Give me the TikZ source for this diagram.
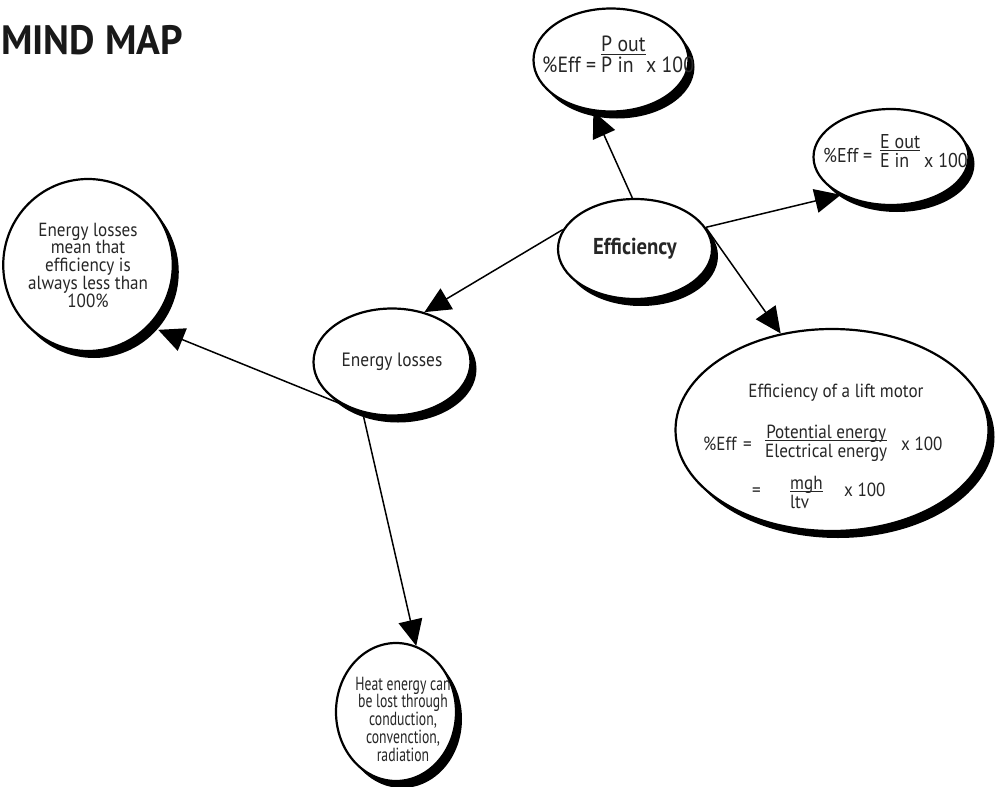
\documentclass[tikz,border=0pt]{standalone}
\usepackage{fontspec}
\setmainfont{PT Sans}[FakeStretch=0.9]
\newfontfamily\titlefont{PT Sans}[FakeStretch=0.96]
\newfontfamily\narrowfont{PT Sans}[FakeStretch=0.72]
\usetikzlibrary{shapes.geometric,arrows.meta,shadows}
\newcommand{\frc}[3][l]{{\setlength{\arrayrulewidth}{1.2pt}\setlength{\tabcolsep}{0pt}\begin{tabular}[b]{@{}#1@{}}#2\\[-5pt]\hline\rule{0pt}{16pt}#3\end{tabular}}}
\begin{document}
\begin{tikzpicture}[x=1pt,y=-1pt,
  bub/.style={ellipse, draw, line width=2.2pt, fill=white, inner sep=0pt, align=center, text=black!85,
    drop shadow={shadow xshift=6pt,shadow yshift=-7pt,opacity=1,fill=black}},
  arr/.style={line width=1.5pt, -{Triangle[length=26pt,width=24pt]}},
  lab/.style={font=\fontsize{19}{17.75}\selectfont, align=center, inner sep=0pt, text=black!85},
  ft/.style={font=\fontsize{19}{22}\selectfont, inner sep=0pt, text=black!85}]
\useasboundingbox (0,0) rectangle (999,787);

\node[font=\titlefont\bfseries\fontsize{41}{41}\selectfont, anchor=base west, inner sep=0pt, text=black!90] (title) at (1,54) {MIND MAP};

\node[bub, minimum width=155pt, minimum height=103pt] (pout) at (611,60) {};
\node[bub, minimum width=155pt, minimum height=96pt] (eout) at (891,157) {};
\node[bub, minimum width=158pt, minimum height=172pt, font=\fontsize{19}{17.75}\selectfont] (left) at (88,265)
  {Energy losses\\mean that\\efficiency is\\always less than\\100\%};
\node[bub, minimum width=154pt, minimum height=100pt, font=\bfseries\fontsize{23}{24}\selectfont] (eff) at (635,249) {Efficiency};
\node[bub, minimum width=157pt, minimum height=107pt, font=\fontsize{19.3}{20}\selectfont] (loss) at (392,362) {Energy losses};
\node[bub, minimum width=313pt, minimum height=202pt] (lift) at (832,430) {};
\node[bub, minimum width=120pt, minimum height=138pt] (heat) at (396,712) {};

% formula P
\node[ft, font=\fontsize{22}{24}\selectfont, anchor=base west] (a1) at (542,72) {\%Eff =};
\node[ft, font=\fontsize{22}{24}\selectfont, anchor=base west] (a2) at (601,72) {\frc{P out}{P in}};
\node[ft, font=\fontsize{22}{24}\selectfont, anchor=base west] (a3) at (646,72) {x 100};
% formula E
\node[ft, font=\fontsize{20}{22}\selectfont, anchor=base west] (b1) at (823,162) {\%Eff =};
\node[ft, font=\fontsize{20}{22}\selectfont, anchor=base west] (b2) at (880,167) {\frc{E out}{E in}};
\node[ft, font=\fontsize{20}{22}\selectfont, anchor=base west] (b3) at (924,167) {x 100};
% lift motor
\node[lab, anchor=base] (l1) at (836,397) {Efficiency of a lift motor};
\node[ft, anchor=base west] (l2) at (703,450) {\%Eff\hspace{2pt} =};
\node[ft, anchor=base west] (l3) at (765,457) {\frc[c]{Potential energy}{Electrical energy}};
\node[ft, anchor=base west] (l4) at (901,450) {x 100};
\node[ft, anchor=base west] (l5) at (752,496) {=};
\node[ft, anchor=base west] (l6) at (790,508) {\frc{mgh}{ltv}};
\node[ft, anchor=base west] (l7) at (844,496) {x 100};
% heat
\node[lab, font=\narrowfont\fontsize{19}{17.75}\selectfont] (heatt) at (403,719) {Heat energy can\\be lost through\\conduction,\\convenction,\\radiation};

\draw[arr] (eff.93) -- (pout.251);
\draw[arr] (eff.17) -- (eout.217);
\draw[arr] (eff.165) -- (loss.57);
\draw[arr] (eff.17) -- (lift.118);
\draw[arr] (loss.240) -- ([xshift=6pt,yshift=-7pt]left.318);
\draw[arr] (loss.240) -- (heat.73);
\end{tikzpicture}
\end{document}
